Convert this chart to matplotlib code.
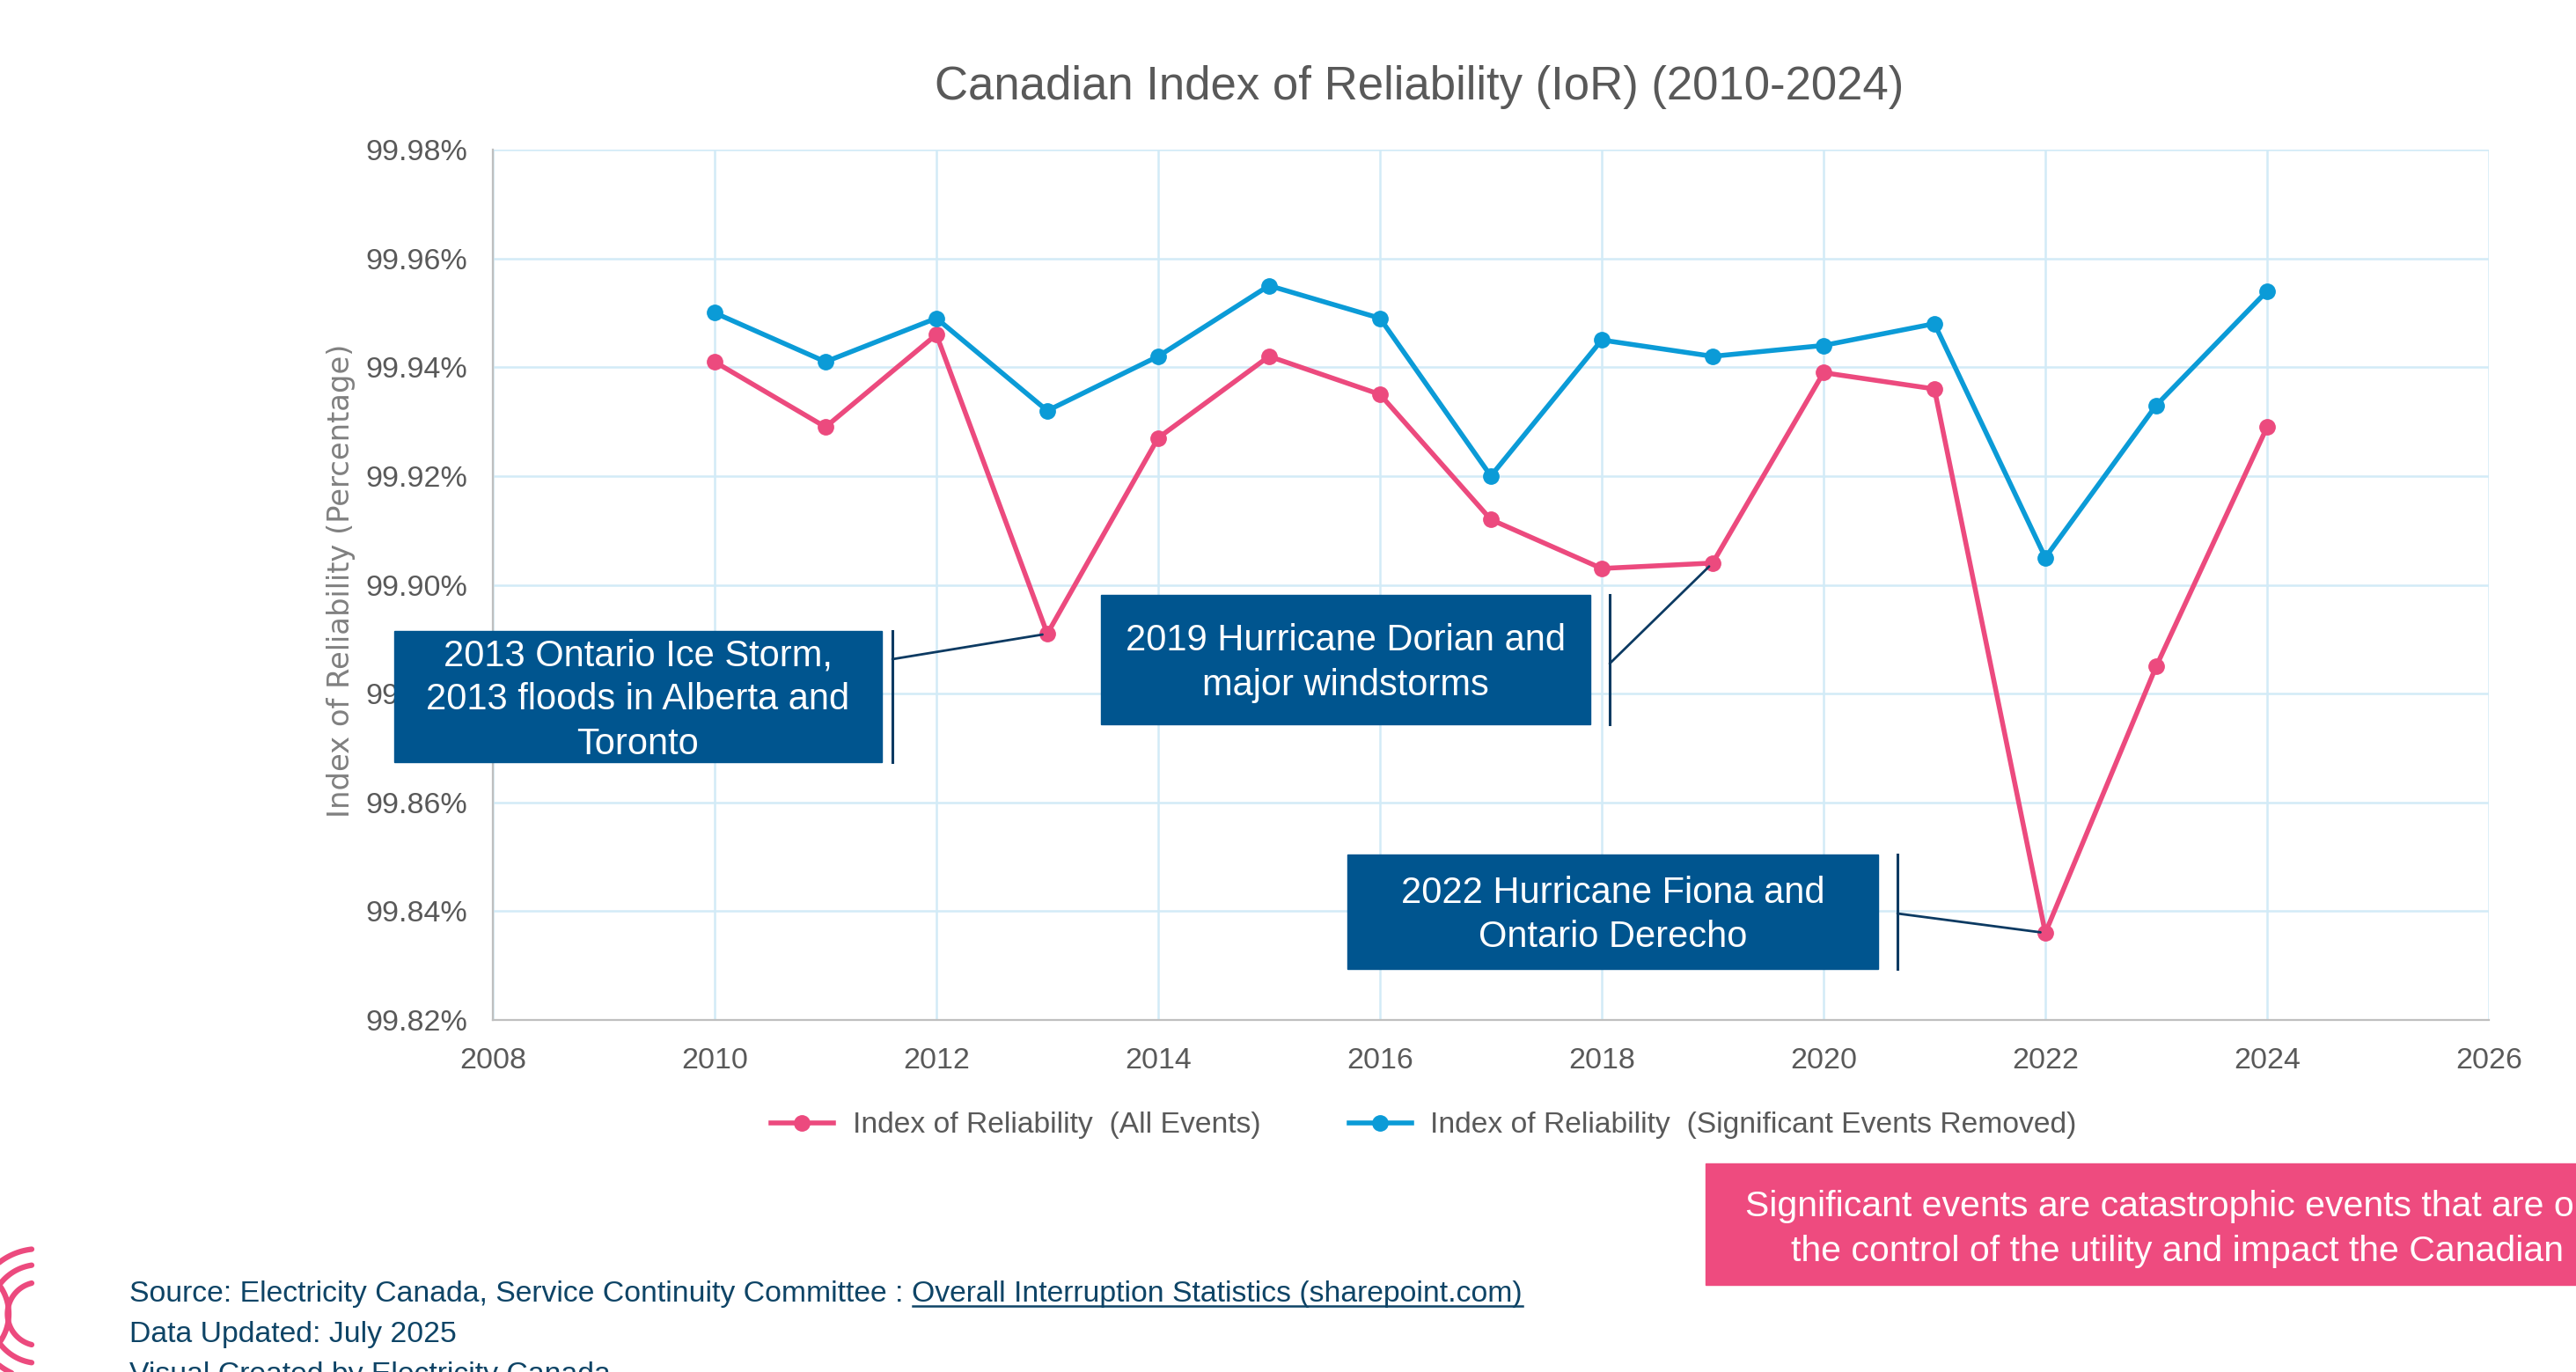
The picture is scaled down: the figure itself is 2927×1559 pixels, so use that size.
import matplotlib
matplotlib.use("Agg")
import matplotlib.pyplot as plt
import numpy as np
from matplotlib.lines import Line2D
from matplotlib.patches import Rectangle
from matplotlib.ticker import FuncFormatter

plt.rcParams["font.family"] = ["Liberation Sans", "DejaVu Sans"]

# Data
years = [2010, 2011, 2012, 2013, 2014, 2015, 2016, 2017,
         2018, 2019, 2020, 2021, 2022, 2023, 2024]
ior_all = [99.941, 99.929, 99.946, 99.891, 99.927, 99.942, 99.935, 99.912,
           99.903, 99.904, 99.939, 99.936, 99.836, 99.885, 99.929]
ior_removed = [99.950, 99.941, 99.949, 99.932, 99.942, 99.955, 99.949, 99.920,
               99.945, 99.942, 99.944, 99.948, 99.905, 99.933, 99.954]

series_labels = ["Index of Reliability  (All Events)",
                 "Index of Reliability  (Significant Events Removed)"]

# (year of the event, box text)
events = [
    (2013, "2013 Ontario Ice Storm,\n2013 floods in Alberta and\nToronto"),
    (2019, "2019 Hurricane Dorian and\nmajor windstorms"),
    (2022, "2022 Hurricane Fiona and\nOntario Derecho"),
]

PINK = "#ec4a7e"
BLUE = "#0b9bd7"
NAVY = "#00558f"
DARK = "#0c3a62"
GREY = "#595959"

W, H = 2927, 1559
fig = plt.figure(figsize=(W / 100, H / 100), dpi=100)


def fx(px):
    return px / W


def fy(py):
    return 1 - py / H


ax = fig.add_axes([fx(560), fy(1159), fx(2828) - fx(560), fy(170) - fy(1159)])

ax.plot(years, ior_all, color=PINK, lw=4, marker="o", ms=12.5, label=series_labels[0])
ax.plot(years, ior_removed, color=BLUE, lw=4, marker="o", ms=12.5, label=series_labels[1])

ax.set_xlim(2008, 2026)
ax.set_ylim(99.82, 99.98)
ax.set_xticks(np.arange(2008, 2027, 2))
ax.set_yticks(np.arange(99.82, 99.9801, 0.02))
ax.yaxis.set_major_formatter(FuncFormatter(lambda v, p: f"{v:.2f}%"))
ax.tick_params(length=0, labelsize=24.5, labelcolor=GREY)
ax.tick_params(axis="y", pad=21)
ax.tick_params(axis="x", pad=22)

ax.grid(True, color="#d2ebf7", lw=1.8)
ax.set_axisbelow(True)
for side in ["top", "right"]:
    ax.spines[side].set_visible(False)
for side in ["left", "bottom"]:
    ax.spines[side].set_color("#bfbfbf")
    ax.spines[side].set_linewidth(1.6)

# titles
fig.text(fx(1613), fy(99), "Canadian Index of Reliability (IoR) (2010-2024)",
         ha="center", va="center", fontsize=38, color=GREY)
fig.text(fx(388), fy(660), "Index of Reliability (Percentage)", rotation=90,
         ha="center", va="center", fontsize=24.3, color="#808080",
         family=["DejaVu Sans"])

fig.legend(loc="center", bbox_to_anchor=(fx(1618), fy(1279)), ncol=2,
           frameon=False, fontsize=24.2, handlelength=2.1, handletextpad=0.65,
           columnspacing=3.0, labelcolor=GREY)

# annotation boxes: box rect (px), bracket x, connector start y
boxes = [
    ((448, 717, 1002, 866), 1014, 749),
    ((1251, 676, 1807, 823), 1829, 754),
    ((1531, 971, 2134, 1101), 2156, 1038),
]
for (yr, txt), ((x0, y0, x1, y1), bx, cy) in zip(events, boxes):
    fig.add_artist(Rectangle((fx(x0), fy(y1)), fx(x1) - fx(x0), fy(y0) - fy(y1),
                             transform=fig.transFigure, color=NAVY, zorder=5))
    fig.text(fx((x0 + x1) / 2), fy((y0 + y1) / 2 + 4), txt, ha="center", va="center",
             fontsize=30, color="white", linespacing=1.33, zorder=6)
    fig.add_artist(Line2D([fx(bx), fx(bx)], [fy(y0), fy(y1)],
                          transform=fig.transFigure, color=DARK, lw=2.2, zorder=5))
    val = ior_all[years.index(yr)]
    ax.annotate("", xy=(yr, val), xycoords="data",
                xytext=(fx(bx), fy(cy)), textcoords="figure fraction",
                arrowprops=dict(arrowstyle="-", color=DARK, lw=2,
                                shrinkA=0, shrinkB=4), zorder=5)

# pink note box (runs off the right edge)
fig.add_artist(Rectangle((fx(1938), fy(1460)), 1 - fx(1938), fy(1322) - fy(1460),
                         transform=fig.transFigure, color="#ee4b7f", zorder=5))
fig.text(fx(1983), fy(1371), "Significant events are catastrophic events that are outside",
         ha="left", va="center", fontsize=29.5, color="white", zorder=6)
fig.text(fx(2035), fy(1422), "the control of the utility and impact the Canadian",
         ha="left", va="center", fontsize=29.5, color="white", zorder=6)

# footer
FOOT = "#0e4466"
t1 = fig.text(fx(147), fy(1471), "Source: Electricity Canada, Service Continuity Committee :",
              ha="left", va="center", fontsize=24.3, color=FOOT)
fig.text(fx(147), fy(1517), "Data Updated: July 2025", ha="left", va="center",
         fontsize=24.3, color=FOOT)
fig.text(fx(147), fy(1563), "Visual Created by Electricity Canada", ha="left",
         va="center", fontsize=24.3, color=FOOT)

fig.canvas.draw()
renderer = fig.canvas.get_renderer()
bb = t1.get_window_extent(renderer)
link = fig.text((bb.x1 + 10) / W, fy(1471), "Overall Interruption Statistics (sharepoint.com)",
                ha="left", va="center", fontsize=24.3, color=FOOT)
fig.canvas.draw()
lb = link.get_window_extent(renderer)
fig.add_artist(Line2D([lb.x0 / W, lb.x1 / W], [(lb.y0 + 3) / H] * 2,
                      transform=fig.transFigure, color=FOOT, lw=1.8))

# logo arcs in the bottom-left corner (pixel space overlay)
lax = fig.add_axes([0, 0, 1, 1], zorder=-1)
lax.set_xlim(0, W)
lax.set_ylim(H, 0)
lax.axis("off")
cx, cy = 44.5, 1493
for r in [36, 56, 74]:
    a = np.arccos((36 - cx) / r)
    th = np.linspace(a, 2 * np.pi - a, 100)
    lax.plot(cx + r * np.cos(th), cy + r * np.sin(th), color=PINK, lw=4.5,
             solid_capstyle="round")
th = np.linspace(-1.2, 1.2, 100)
lax.plot(-45 + 55 * np.cos(th), cy + 55 * np.sin(th), color=PINK, lw=4.5)

fig.savefig("out.png", dpi=100)
